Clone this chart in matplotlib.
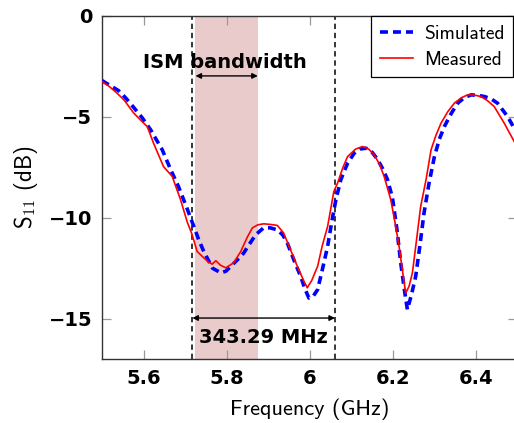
import matplotlib.pyplot as plt

# S11 traces (frequency in GHz, S11 in dB)
freq_meas = [5.500, 5.515, 5.535, 5.553, 5.576, 5.595, 5.609, 5.624, 5.648, 5.669,
             5.689, 5.705, 5.717, 5.729, 5.754, 5.765, 5.774, 5.785, 5.798, 5.817,
             5.834, 5.850, 5.862, 5.875, 5.889, 5.905, 5.922, 5.937, 5.955, 5.970,
             5.985, 5.994, 6.005, 6.019, 6.030, 6.043, 6.058, 6.067, 6.080, 6.091,
             6.110, 6.127, 6.142, 6.155, 6.168, 6.179, 6.195, 6.205, 6.215, 6.225,
             6.231, 6.239, 6.247, 6.257, 6.267, 6.280, 6.292, 6.304, 6.316, 6.332,
             6.348, 6.365, 6.380, 6.396, 6.412, 6.428, 6.444, 6.468, 6.492, 6.500]
s11_meas = [-3.25, -3.45, -3.8, -4.16, -4.8, -5.2, -5.48, -6.3, -7.46, -7.95,
            -9.1, -10.2, -10.84, -11.67, -12.16, -12.3, -12.13, -12.35, -12.48, -12.23,
            -11.67, -10.95, -10.5, -10.35, -10.3, -10.33, -10.38, -10.75, -11.65, -12.4,
            -13.1, -13.47, -13.1, -12.4, -11.4, -10.43, -8.7, -8.28, -7.5, -6.97,
            -6.6, -6.47, -6.6, -6.88, -7.35, -7.95, -9.1, -10.2, -11.42, -12.9,
            -13.73, -13.4, -12.74, -11.1, -9.44, -8.1, -6.63, -5.9, -5.31, -4.75,
            -4.32, -4.05, -3.91, -3.92, -3.99, -4.2, -4.49, -5.31, -6.22, -6.5]

freq_sim = [5.500, 5.520, 5.540, 5.557, 5.575, 5.597, 5.617, 5.630, 5.645, 5.665,
            5.684, 5.704, 5.721, 5.733, 5.745, 5.766, 5.786, 5.798, 5.810, 5.825,
            5.841, 5.855, 5.870, 5.889, 5.905, 5.922, 5.935, 5.946, 5.962, 5.978,
            5.988, 5.998, 6.008, 6.019, 6.030, 6.043, 6.053, 6.063, 6.075, 6.091,
            6.107, 6.120, 6.135, 6.150, 6.163, 6.175, 6.187, 6.199, 6.210, 6.219,
            6.228, 6.235, 6.245, 6.255, 6.265, 6.275, 6.287, 6.300, 6.312, 6.324,
            6.340, 6.356, 6.372, 6.388, 6.404, 6.420, 6.436, 6.452, 6.476, 6.492, 6.500]
s11_sim = [-3.2, -3.45, -3.7, -4.06, -4.5, -5.05, -5.64, -6.1, -6.63, -7.6,
           -8.45, -9.5, -10.43, -11.1, -11.67, -12.5, -12.73, -12.65, -12.41, -12.1,
           -11.75, -11.3, -10.84, -10.5, -10.5, -10.6, -10.85, -11.25, -12.1, -12.9,
           -13.5, -13.98, -13.9, -13.56, -12.6, -11.42, -10.2, -9.1, -8.1, -7.3,
           -6.8, -6.6, -6.55, -6.75, -7.1, -7.55, -8.1, -9.0, -10.6, -12.24,
           -13.6, -14.55, -13.8, -12.9, -11.4, -9.77, -8.3, -6.97, -6.1, -5.48,
           -4.85, -4.32, -4.05, -3.91, -3.93, -3.99, -4.1, -4.32, -4.98, -5.56, -5.8]

# ISM band and -10 dB bandwidth edges (GHz)
ism_band = [5.725, 5.875]
bw_edges = [5.7175, 6.06079]
bw_label = '343.29 MHz'

xticks = [5.6, 5.8, 6.0, 6.2, 6.4]
xtick_labels = ['5.6', '5.8', '6', '6.2', '6.4']
yticks = [0, -5, -10, -15]

plt.rcParams['mathtext.fontset'] = 'cm'
plt.rcParams['axes.unicode_minus'] = True

fig = plt.figure(figsize=(5.14, 4.23), dpi=100)
ax = fig.add_axes([0.1984, 0.1513, 0.8084, 0.8109])

ax.axvspan(ism_band[0], ism_band[1], color='#EACBCB', lw=0, zorder=0)
for x in bw_edges:
    ax.axvline(x, color='black', lw=1.1, ls=(0, (3.5, 2.5)), zorder=1)

ax.plot(freq_sim, s11_sim, color='blue', lw=2.6, ls=(0, (2.2, 1.4)), label='Simulated', zorder=3)
ax.plot(freq_meas, s11_meas, color='red', lw=1.2, label='Measured', zorder=4)

# bandwidth annotations
ax.annotate('', xy=(ism_band[0], -2.97), xytext=(ism_band[1], -2.97),
            arrowprops=dict(arrowstyle='<|-|>', color='black', lw=1.0, mutation_scale=8,
                            shrinkA=0, shrinkB=0))
ax.text(5.795, -2.57, 'ISM bandwidth', ha='center', va='baseline',
        fontsize=14, fontweight='bold', family='DejaVu Sans')
ax.annotate('', xy=(bw_edges[0], -14.97), xytext=(bw_edges[1], -14.97),
            arrowprops=dict(arrowstyle='<|-|>', color='black', lw=1.0, mutation_scale=8,
                            shrinkA=0, shrinkB=0))
ax.text(5.889, -16.2, bw_label, ha='center', va='baseline',
        fontsize=14, fontweight='bold', family='DejaVu Sans')

ax.set_xlim(5.5, 6.5)
ax.set_ylim(-17, 0)
ax.set_xticks(xticks)
ax.set_xticklabels(xtick_labels)
ax.set_yticks(yticks)
ax.tick_params(direction='in', length=6.5, width=0.9, color='#999999',
               top=True, right=True, labelsize=14, pad=7)
for lbl in ax.get_xticklabels() + ax.get_yticklabels():
    lbl.set_fontweight('bold')
    lbl.set_family('DejaVu Sans')
for sp in ax.spines.values():
    sp.set_color('#333333')
    sp.set_linewidth(1.0)

ax.set_xlabel('Frequency (GHz)', fontsize=16, family='cmss10', labelpad=8)
ax.set_ylabel(r'$\mathsf{S}_{11}$ (dB)', fontsize=16.5, family='cmss10', labelpad=6)

leg = ax.legend(loc='upper right', bbox_to_anchor=(513 / 514, 407 / 423),
                bbox_transform=fig.transFigure, borderaxespad=0, fancybox=False,
                edgecolor='black', framealpha=1, prop={'family': 'cmss10', 'size': 14},
                handlelength=1.7, handletextpad=0.55, borderpad=0.45, labelspacing=0.4)
leg.get_frame().set_linewidth(0.9)

plt.savefig('out.png', dpi=100)
